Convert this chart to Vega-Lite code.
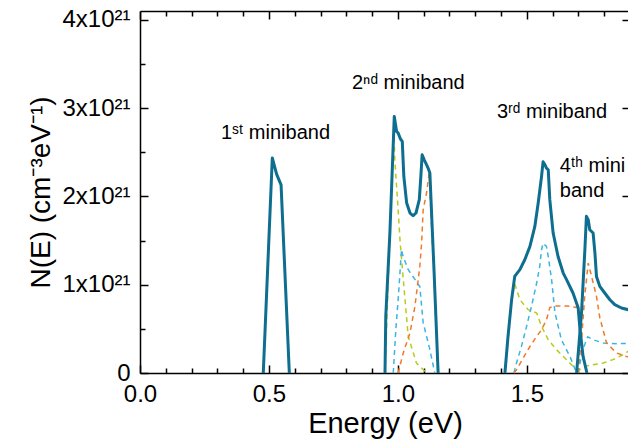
{
  "$schema": "https://vega.github.io/schema/vega-lite/v6.json",
  "width": 490,
  "height": 362,
  "autosize": "none",
  "padding": {"left": 140, "top": 11, "right": 0, "bottom": 71},
  "config": {
    "view": {"stroke": null},
    "font": "Liberation Sans",
    "axis": {
      "domainColor": "black", "tickColor": "black", "domainWidth": 1.5, "tickWidth": 1.5,
      "labelColor": "black", "labelFont": "Liberation Sans", "labelFontSize": 24,
      "titleFont": "Liberation Sans", "titleFontWeight": "normal", "titleColor": "black",
      "grid": false, "zindex": 1, "labelFlush": false, "labelOverlap": false
    }
  },
  "datasets": {
    "curves": [
      {"c":"total","b":"1","E":0.478,"N":0},
      {"c":"total","b":"1","E":0.513,"N":2.435},
      {"c":"total","b":"1","E":0.530,"N":2.25},
      {"c":"total","b":"1","E":0.547,"N":2.13},
      {"c":"total","b":"1","E":0.579,"N":0},

      {"c":"total","b":"2","E":0.950,"N":0},
      {"c":"total","b":"2","E":0.953,"N":0.641},
      {"c":"total","b":"2","E":0.969,"N":1.589},
      {"c":"total","b":"2","E":0.986,"N":2.906},
      {"c":"total","b":"2","E":0.995,"N":2.736},
      {"c":"total","b":"2","E":1.001,"N":2.718},
      {"c":"total","b":"2","E":1.010,"N":2.650},
      {"c":"total","b":"2","E":1.017,"N":2.623},
      {"c":"total","b":"2","E":1.023,"N":2.226},
      {"c":"total","b":"2","E":1.034,"N":1.925},
      {"c":"total","b":"2","E":1.047,"N":1.812},
      {"c":"total","b":"2","E":1.059,"N":1.781},
      {"c":"total","b":"2","E":1.070,"N":1.812},
      {"c":"total","b":"2","E":1.083,"N":1.963},
      {"c":"total","b":"2","E":1.089,"N":2.226},
      {"c":"total","b":"2","E":1.094,"N":2.472},
      {"c":"total","b":"2","E":1.102,"N":2.415},
      {"c":"total","b":"2","E":1.111,"N":2.359},
      {"c":"total","b":"2","E":1.117,"N":2.321},
      {"c":"total","b":"2","E":1.124,"N":2.265},
      {"c":"total","b":"2","E":1.140,"N":1.170},
      {"c":"total","b":"2","E":1.156,"N":0},

      {"c":"total","b":"3","E":1.415,"N":0},
      {"c":"total","b":"3","E":1.427,"N":0.414},
      {"c":"total","b":"3","E":1.441,"N":0.830},
      {"c":"total","b":"3","E":1.453,"N":1.094},
      {"c":"total","b":"3","E":1.461,"N":1.125},
      {"c":"total","b":"3","E":1.473,"N":1.17},
      {"c":"total","b":"3","E":1.492,"N":1.283},
      {"c":"total","b":"3","E":1.512,"N":1.434},
      {"c":"total","b":"3","E":1.531,"N":1.66},
      {"c":"total","b":"3","E":1.544,"N":1.925},
      {"c":"total","b":"3","E":1.557,"N":2.226},
      {"c":"total","b":"3","E":1.563,"N":2.393},
      {"c":"total","b":"3","E":1.570,"N":2.359},
      {"c":"total","b":"3","E":1.576,"N":2.321},
      {"c":"total","b":"3","E":1.583,"N":2.302},
      {"c":"total","b":"3","E":1.589,"N":1.963},
      {"c":"total","b":"3","E":1.602,"N":1.585},
      {"c":"total","b":"3","E":1.621,"N":1.32},
      {"c":"total","b":"3","E":1.641,"N":1.132},
      {"c":"total","b":"3","E":1.654,"N":1.057},
      {"c":"total","b":"3","E":1.679,"N":0.906},
      {"c":"total","b":"3","E":1.699,"N":0.74},
      {"c":"total","b":"3","E":1.705,"N":0.528},
      {"c":"total","b":"3","E":1.718,"N":0.188},
      {"c":"total","b":"3","E":1.733,"N":0},

      {"c":"total","b":"4","E":1.693,"N":0},
      {"c":"total","b":"4","E":1.712,"N":0.68},
      {"c":"total","b":"4","E":1.725,"N":1.396},
      {"c":"total","b":"4","E":1.731,"N":1.774},
      {"c":"total","b":"4","E":1.738,"N":1.736},
      {"c":"total","b":"4","E":1.744,"N":1.623},
      {"c":"total","b":"4","E":1.757,"N":1.585},
      {"c":"total","b":"4","E":1.764,"N":1.359},
      {"c":"total","b":"4","E":1.770,"N":1.094},
      {"c":"total","b":"4","E":1.783,"N":0.981},
      {"c":"total","b":"4","E":1.802,"N":0.906},
      {"c":"total","b":"4","E":1.822,"N":0.83},
      {"c":"total","b":"4","E":1.841,"N":0.774},
      {"c":"total","b":"4","E":1.867,"N":0.736},
      {"c":"total","b":"4","E":1.893,"N":0.717},
      {"c":"total","b":"4","E":1.9,"N":0.71},

      {"c":"yellow","b":"2","E":0.950,"N":0},
      {"c":"yellow","b":"2","E":0.969,"N":1.589},
      {"c":"yellow","b":"2","E":0.984,"N":2.81},
      {"c":"yellow","b":"2","E":0.988,"N":2.416},
      {"c":"yellow","b":"2","E":1.001,"N":1.849},
      {"c":"yellow","b":"2","E":1.008,"N":1.51},
      {"c":"yellow","b":"2","E":1.021,"N":1.057},
      {"c":"yellow","b":"2","E":1.040,"N":0.414},
      {"c":"yellow","b":"2","E":1.072,"N":0.113},
      {"c":"yellow","b":"2","E":1.111,"N":0},

      {"c":"blue","b":"2","E":0.982,"N":0},
      {"c":"blue","b":"2","E":0.992,"N":0.49},
      {"c":"blue","b":"2","E":1.001,"N":0.83},
      {"c":"blue","b":"2","E":1.014,"N":1.4},
      {"c":"blue","b":"2","E":1.019,"N":1.33},
      {"c":"blue","b":"2","E":1.040,"N":1.17},
      {"c":"blue","b":"2","E":1.066,"N":1.06},
      {"c":"blue","b":"2","E":1.085,"N":0.98},
      {"c":"blue","b":"2","E":1.098,"N":0.57},
      {"c":"blue","b":"2","E":1.124,"N":0.264},
      {"c":"blue","b":"2","E":1.143,"N":0},

      {"c":"orange","b":"2","E":1.001,"N":0},
      {"c":"orange","b":"2","E":1.021,"N":0.23},
      {"c":"orange","b":"2","E":1.047,"N":0.457},
      {"c":"orange","b":"2","E":1.066,"N":0.754},
      {"c":"orange","b":"2","E":1.085,"N":1.207},
      {"c":"orange","b":"2","E":1.092,"N":1.472},
      {"c":"orange","b":"2","E":1.098,"N":1.849},
      {"c":"orange","b":"2","E":1.111,"N":2.038},
      {"c":"orange","b":"2","E":1.121,"N":2.265},
      {"c":"orange","b":"2","E":1.140,"N":1.10},
      {"c":"orange","b":"2","E":1.155,"N":0},

      {"c":"yellow","b":"3","E":1.415,"N":0},
      {"c":"yellow","b":"3","E":1.441,"N":0.83},
      {"c":"yellow","b":"3","E":1.453,"N":1.01},
      {"c":"yellow","b":"3","E":1.473,"N":0.83},
      {"c":"yellow","b":"3","E":1.505,"N":0.717},
      {"c":"yellow","b":"3","E":1.538,"N":0.68},
      {"c":"yellow","b":"3","E":1.557,"N":0.528},
      {"c":"yellow","b":"3","E":1.583,"N":0.377},
      {"c":"yellow","b":"3","E":1.615,"N":0.264},
      {"c":"yellow","b":"3","E":1.654,"N":0.151},
      {"c":"yellow","b":"3","E":1.679,"N":0.075},
      {"c":"yellow","b":"3","E":1.705,"N":0.037},
      {"c":"yellow","b":"3","E":1.725,"N":0.075},
      {"c":"yellow","b":"3","E":1.757,"N":0.094},
      {"c":"yellow","b":"3","E":1.796,"N":0.113},
      {"c":"yellow","b":"3","E":1.834,"N":0.151},
      {"c":"yellow","b":"3","E":1.873,"N":0.207},
      {"c":"yellow","b":"3","E":1.9,"N":0.26},

      {"c":"blue","b":"3","E":1.450,"N":0},
      {"c":"blue","b":"3","E":1.460,"N":0.113},
      {"c":"blue","b":"3","E":1.479,"N":0.301},
      {"c":"blue","b":"3","E":1.499,"N":0.528},
      {"c":"blue","b":"3","E":1.518,"N":0.754},
      {"c":"blue","b":"3","E":1.538,"N":1.019},
      {"c":"blue","b":"3","E":1.550,"N":1.207},
      {"c":"blue","b":"3","E":1.557,"N":1.396},
      {"c":"blue","b":"3","E":1.563,"N":1.47},
      {"c":"blue","b":"3","E":1.576,"N":1.434},
      {"c":"blue","b":"3","E":1.583,"N":1.32},
      {"c":"blue","b":"3","E":1.596,"N":1.057},
      {"c":"blue","b":"3","E":1.609,"N":0.683},
      {"c":"blue","b":"3","E":1.634,"N":0.377},
      {"c":"blue","b":"3","E":1.667,"N":0.188},
      {"c":"blue","b":"3","E":1.693,"N":0},

      {"c":"orange","b":"3","E":1.450,"N":0},
      {"c":"orange","b":"3","E":1.460,"N":0.037},
      {"c":"orange","b":"3","E":1.486,"N":0.17},
      {"c":"orange","b":"3","E":1.512,"N":0.3},
      {"c":"orange","b":"3","E":1.538,"N":0.415},
      {"c":"orange","b":"3","E":1.557,"N":0.49},
      {"c":"orange","b":"3","E":1.576,"N":0.6},
      {"c":"orange","b":"3","E":1.589,"N":0.74},
      {"c":"orange","b":"3","E":1.609,"N":0.76},
      {"c":"orange","b":"3","E":1.654,"N":0.76},
      {"c":"orange","b":"3","E":1.699,"N":0.74},
      {"c":"orange","b":"3","E":1.705,"N":0.49},
      {"c":"orange","b":"3","E":1.718,"N":0.17},
      {"c":"orange","b":"3","E":1.733,"N":0},

      {"c":"orange","b":"4","E":1.698,"N":0},
      {"c":"orange","b":"4","E":1.712,"N":0.377},
      {"c":"orange","b":"4","E":1.725,"N":0.887},
      {"c":"orange","b":"4","E":1.738,"N":1.245},
      {"c":"orange","b":"4","E":1.751,"N":1.094},
      {"c":"orange","b":"4","E":1.770,"N":0.868},
      {"c":"orange","b":"4","E":1.783,"N":0.626},
      {"c":"orange","b":"4","E":1.809,"N":0.34},
      {"c":"orange","b":"4","E":1.848,"N":0.226},
      {"c":"orange","b":"4","E":1.886,"N":0.188},
      {"c":"orange","b":"4","E":1.9,"N":0.18},

      {"c":"blue","b":"4","E":1.698,"N":0},
      {"c":"blue","b":"4","E":1.717,"N":0.264},
      {"c":"blue","b":"4","E":1.736,"N":0.41},
      {"c":"blue","b":"4","E":1.757,"N":0.377},
      {"c":"blue","b":"4","E":1.796,"N":0.34},
      {"c":"blue","b":"4","E":1.853,"N":0.332},
      {"c":"blue","b":"4","E":1.9,"N":0.335}
    ],
    "notes": [
      {"E":0.314,"N":2.72,"t":"1ˢᵗ miniband"},
      {"E":0.822,"N":3.29,"t":"2ⁿᵈ miniband"},
      {"E":1.384,"N":2.953,"t":"3ʳᵈ miniband"},
      {"E":1.628,"N":2.35,"t":"4ᵗʰ mini"},
      {"E":1.628,"N":2.066,"t":"band"}
    ]
  },
  "layer": [
    {
      "data": {"name": "curves"},
      "transform": [{"filter": "datum.c == 'yellow' || datum.c == 'blue'"}],
      "mark": {"type": "line", "strokeWidth": 1.5, "strokeDash": [5, 4]},
      "encoding": {
        "x": {"field": "E", "type": "quantitative",
              "scale": {"domain": [0, 1.9], "nice": false, "zero": false},
              "axis": {"orient": "bottom", "values": [0, 0.5, 1, 1.5], "format": ".1f",
                       "tickSize": -8, "labelPadding": 17, "title": "Energy (eV)",
                       "titleFontSize": 29, "titlePadding": 3}},
        "y": {"field": "N", "type": "quantitative",
              "scale": {"domain": [0, 4.1], "nice": false},
              "axis": {"orient": "left", "values": [0, 1, 2, 3, 4],
                       "labelExpr": "datum.value == 0 ? '0' : datum.value + 'x10²¹'",
                       "tickSize": -8, "labelPadding": 18, "title": "N(E) (cm⁻³eV⁻¹)",
                       "titleFontSize": 28, "titlePadding": 6}},
        "color": {"field": "c", "type": "nominal", "legend": null,
                  "scale": {"domain": ["total", "yellow", "blue", "orange"],
                            "range": ["#0e6e90", "#b8cb1c", "#3bb5e3", "#f07a2a"]}},
        "detail": {"field": "b"}
      }
    },
    {
      "data": {"name": "curves"},
      "transform": [{"filter": "datum.c == 'orange'"}],
      "mark": {"type": "line", "strokeWidth": 1.5, "strokeDash": [5, 4]},
      "encoding": {
        "x": {"field": "E", "type": "quantitative",
              "axis": {"orient": "top", "values": [0.1,0.2,0.3,0.4,0.6,0.7,0.8,0.9,1.1,1.2,1.3,1.4,1.6,1.7,1.8],
                       "labels": false, "domain": false, "tickSize": -5, "title": null}},
        "y": {"field": "N", "type": "quantitative", "axis": null},
        "color": {"field": "c", "type": "nominal", "legend": null},
        "detail": {"field": "b"}
      }
    },
    {
      "data": {"name": "curves"},
      "transform": [{"filter": "datum.c == 'total'"}],
      "mark": {"type": "line", "strokeWidth": 3, "strokeJoin": "round"},
      "encoding": {
        "x": {"field": "E", "type": "quantitative",
              "axis": {"orient": "bottom", "values": [0.1,0.2,0.3,0.4,0.6,0.7,0.8,0.9,1.1,1.2,1.3,1.4,1.6,1.7,1.8],
                       "labels": false, "domain": false, "tickSize": -5, "title": null}},
        "y": {"field": "N", "type": "quantitative",
              "axis": {"orient": "left", "values": [0.5, 1.5, 2.5, 3.5],
                       "labels": false, "domain": false, "tickSize": -5, "title": null}},
        "color": {"field": "c", "type": "nominal", "legend": null},
        "detail": {"field": "b"}
      }
    },
    {
      "data": {"name": "notes"},
      "mark": {"type": "text", "align": "left", "baseline": "middle", "fontSize": 20, "font": "Liberation Sans", "color": "black"},
      "encoding": {
        "x": {"field": "E", "type": "quantitative",
              "axis": {"orient": "top", "values": [0, 0.5, 1, 1.5], "labels": false, "tickSize": -8, "title": null}},
        "y": {"field": "N", "type": "quantitative",
              "axis": {"orient": "right", "values": [0, 1, 2, 3, 4], "labels": false, "tickSize": -8, "title": null}},
        "text": {"field": "t"}
      }
    }
  ],
  "resolve": {"axis": {"x": "independent", "y": "independent"}}
}
